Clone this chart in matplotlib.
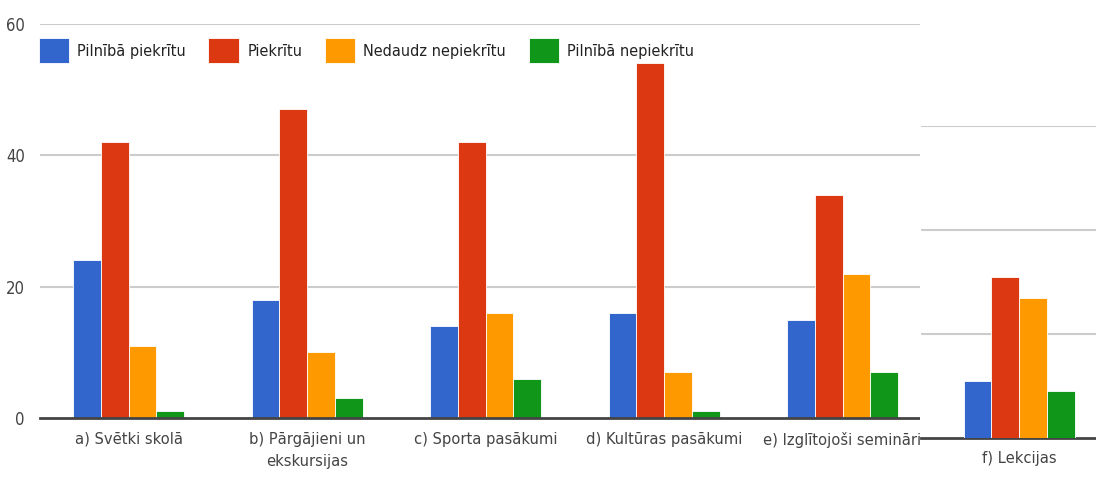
import matplotlib
matplotlib.use("Agg")
import matplotlib.pyplot as plt
import numpy as np
from matplotlib.patches import Rectangle

categories = ["a) Svētki skolā", "b) Pārgājieni un\nekskursijas", "c) Sporta pasākumi",
              "d) Kultūras pasākumi", "e) Izglītojoši semināri"]
series_names = ["Pilnībā piekrītu", "Piekrītu", "Nedaudz nepiekrītu", "Pilnībā nepiekrītu"]
fully_agree = [24, 18, 14, 16, 15]
agree = [42, 47, 42, 54, 34]
slightly_disagree = [11, 10, 16, 7, 22]
fully_disagree = [1, 3, 6, 1, 7]

extra_category = "f) Lekcijas"
extra_values = [11, 31, 27, 9]

colors = ["#3366cc", "#dc3912", "#ff9900", "#109618"]
y_ticks = [0, 20, 40, 60]

plt.rcParams['font.family'] = ['DejaVu Sans']
plt.rcParams['font.stretch'] = 'condensed'
text_col = "#444444"
grid_col = "#cccccc"
bw = 0.1555
offsets = (np.arange(4) - 1.5) * bw

fig = plt.figure(figsize=(10.96, 4.9), dpi=100)

# main chart
ax = fig.add_axes([40/1096, 72/490, 880/1096, 394/490])
x = np.arange(len(categories))
for i, vals in enumerate([fully_agree, agree, slightly_disagree, fully_disagree]):
    ax.bar(x + offsets[i], vals, width=bw, color=colors[i], edgecolor="white",
           linewidth=0.6, label=series_names[i], zorder=3)
ax.set_xlim(-0.496, 4.434)
ax.set_ylim(0, 60)
ax.set_yticks(y_ticks)
ax.set_xticks(x)
ax.set_xticklabels(categories, fontsize=11.8, color=text_col, linespacing=1.6)
ax.tick_params(axis="y", labelsize=12, colors=text_col, length=0, pad=11)
ax.tick_params(axis="x", length=0, pad=10)
for s in ["top", "right", "left"]:
    ax.spines[s].set_visible(False)
ax.spines["bottom"].set_color("#444444")
ax.spines["bottom"].set_linewidth(2)
ax.spines["bottom"].set_zorder(4)
for t in y_ticks[1:]:
    ax.axhline(t, color=grid_col, lw=1.5, zorder=1)

leg = ax.legend(loc="upper left", bbox_to_anchor=(-0.009, 0.98), ncol=4, frameon=False,
                fontsize=11.6, handlelength=1.9, handleheight=2.0, handletextpad=0.5,
                columnspacing=1.4, borderaxespad=0)
for t in leg.get_texts():
    t.set_color("#222222")

# white cover for the cropped part on the right
fig.patches.append(Rectangle((920/1096, 0), 176/1096, 1, transform=fig.transFigure,
                             facecolor="white", edgecolor="none", zorder=5))

# separate panel f)
ax2 = fig.add_axes([921/1096, 52/490, 175/1096, 312/490], zorder=6)
for i, v in enumerate(extra_values):
    ax2.bar(offsets[i], v, width=bw, color=colors[i], edgecolor="white", linewidth=0.6, zorder=3)
ax2.set_xlim(-0.549, 0.431)
ax2.set_ylim(0, 60)
ax2.set_yticks([])
ax2.set_xticks([0])
ax2.set_xticklabels([extra_category], fontsize=11.8, color=text_col)
ax2.tick_params(axis="x", length=0, pad=9)
for s in ["top", "right", "left"]:
    ax2.spines[s].set_visible(False)
ax2.spines["bottom"].set_color("#444444")
ax2.spines["bottom"].set_linewidth(2)
for t in y_ticks[1:]:
    ax2.axhline(t, color=grid_col, lw=1.5, zorder=1)

fig.savefig("out.png", dpi=100, facecolor="white")
